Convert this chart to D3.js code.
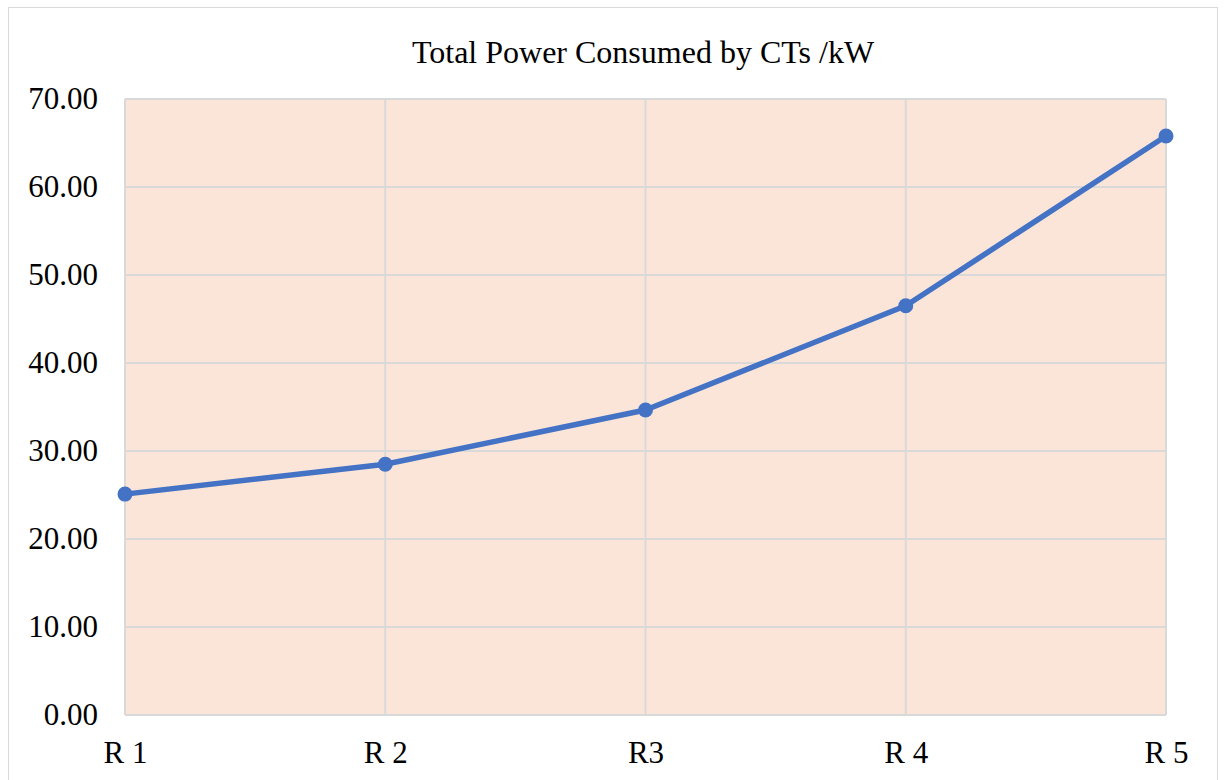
<!DOCTYPE html>
<html>
<head>
<meta charset="utf-8">
<script src="https://cdn.jsdelivr.net/npm/d3@7"></script>
<style>
  body { margin: 0; background: #fff; }
  svg { display: block; }
</style>
</head>
<body>
<svg id="chart" width="1224" height="780"></svg>
<script>
(function() {

  var categories = ["R 1", "R 2", "R3", "R 4", "R 5"];
  var values = [25.1, 28.5, 34.66, 46.5, 65.8];
  var yTicks = [0, 10, 20, 30, 40, 50, 60, 70];
  var title = "Total Power Consumed by CTs /kW";

  var svg = d3.select("#chart");
  var font = "'Liberation Serif', 'Times New Roman', serif";

  // chart border
  svg.append("rect")
      .attr("x", 8.5)
      .attr("y", 7.5)
      .attr("width", 1209)
      .attr("height", 790)
      .attr("fill", "#fff")
      .attr("stroke", "#d9d9d9")
      .attr("stroke-width", 1);

  var left = 125, right = 1166, top = 99, bottom = 715;

  var x = d3.scalePoint().domain(categories).range([left, right]);
  var y = d3.scaleLinear().domain([0, 70]).range([bottom, top]);

  svg.append("rect")
      .attr("x", left)
      .attr("y", top)
      .attr("width", right - left)
      .attr("height", bottom - top)
      .attr("fill", "#fae5d8");

  // gridlines
  svg.append("g").selectAll("line.h")
    .data(yTicks)
    .enter().append("line")
      .attr("x1", left).attr("x2", right)
      .attr("y1", function(d) { return y(d); })
      .attr("y2", function(d) { return y(d); })
      .attr("stroke", "#d9d9d9")
      .attr("stroke-width", 2);

  svg.append("g").selectAll("line.v")
    .data(categories)
    .enter().append("line")
      .attr("x1", function(d) { return x(d); })
      .attr("x2", function(d) { return x(d); })
      .attr("y1", top).attr("y2", bottom)
      .attr("stroke", "#d9d9d9")
      .attr("stroke-width", 2);

  // y labels
  var yAxis = d3.axisLeft(y).tickValues(yTicks)
      .tickFormat(d3.format(".2f")).tickSize(0).tickPadding(27);
  var gy = svg.append("g").attr("transform", "translate(" + left + ",0)").call(yAxis);
  gy.select(".domain").remove();
  gy.selectAll("text")
      .attr("font-family", font)
      .attr("font-size", 31)
      .attr("fill", "#000");

  // x labels
  var xAxis = d3.axisBottom(x).tickSize(0).tickPadding(26);
  var gx = svg.append("g").attr("transform", "translate(0," + bottom + ")").call(xAxis);
  gx.select(".domain").remove();
  gx.selectAll("text")
      .attr("font-family", font)
      .attr("font-size", 31)
      .attr("fill", "#000");

  // title
  svg.append("text")
      .attr("x", 643)
      .attr("y", 63)
      .attr("text-anchor", "middle")
      .attr("font-family", font)
      .attr("font-size", 32)
      .attr("fill", "#000")
      .text(title);

  var data = categories.map(function(c, i) { return {c: c, v: values[i]}; });

  var line = d3.line()
      .x(function(d) { return x(d.c); })
      .y(function(d) { return y(d.v); });

  svg.append("path")
      .datum(data)
      .attr("d", line)
      .attr("fill", "none")
      .attr("stroke", "#4472c4")
      .attr("stroke-width", 5.5)
      .attr("stroke-linejoin", "round");

  svg.append("g").selectAll("circle")
    .data(data)
    .enter().append("circle")
      .attr("cx", function(d) { return x(d.c); })
      .attr("cy", function(d) { return y(d.v); })
      .attr("r", 7.5)
      .attr("fill", "#4472c4");

})();
</script>
</body>
</html>
